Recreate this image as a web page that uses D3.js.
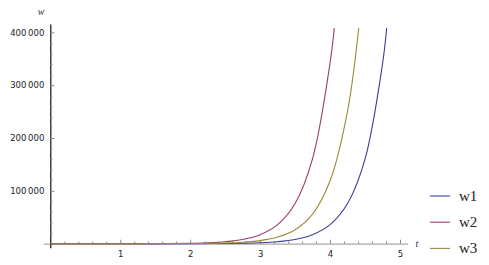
<!DOCTYPE html>
<html>
<head>
<meta charset="utf-8">
<script src="https://cdn.jsdelivr.net/npm/d3@7"></script>
<style>
  body { margin: 0; background: #fff; }
  svg { display: block; }
  .tick text { font-family: "DejaVu Sans", sans-serif; font-size: 8.5px; fill: #222; }
</style>
</head>
<body>
<svg id="chart" width="489" height="265"></svg>
<script>
// values
var seriesNames = ["w1", "w2", "w3"];
var seriesColors = ["#3d3d99", "#993d71", "#998b3d"];

var w1T = [0, 0.5, 1, 1.5, 2, 2.5, 3, 3.25, 3.5, 3.75, 4, 4.25, 4.5, 4.75, 4.81];
var w1V = [0, 1, 4, 20, 90, 400, 1800, 3800, 8000, 17000, 36000, 76000, 160000, 340000, 408000];

var w2T = [0, 0.5, 1, 1.5, 2, 2.25, 2.5, 2.75, 3, 3.25, 3.5, 3.75, 4, 4.06];
var w2V = [2, 9, 42, 190, 850, 1800, 3800, 8000, 17000, 36000, 76000, 161000, 342000, 408000];

var w3T = [0, 0.5, 1, 1.5, 2, 2.25, 2.5, 2.75, 3, 3.25, 3.5, 3.75, 4, 4.25, 4.41];
var w3V = [1, 3, 15, 66, 295, 620, 1300, 2800, 5900, 12500, 26500, 56000, 119000, 251000, 408000];

var xTicks = [1, 2, 3, 4, 5];
var yTicks = [100000, 200000, 300000, 400000];

var svg = d3.select("#chart");

var x = d3.scaleLinear().domain([0, 5]).range([50.3, 400]);
var y = d3.scaleLinear().domain([0, 400000]).range([243.7, 32.3]);

// axes run a little past the plot range, like the original
var xAxisScale = x.copy().domain([-0.1, 5.11]).range([x(-0.1), x(5.11)]);
var yAxisScale = y.copy().domain([-7600, 415700]).range([y(-7600), y(415700)]);

var xMinor = d3.range(0.2, 5.01, 0.2).filter(function(d) { return Math.abs(d - Math.round(d)) > 0.01; });
var yMinor = d3.range(20000, 400001, 20000).filter(function(d) { return d % 100000 != 0; });

var fmt = function(d) {
  var s = String(d);
  return s.slice(0, s.length - 3) + "\u2009" + s.slice(-3);
};

// x axis
svg.append("g")
  .attr("transform", "translate(0," + y(0) + ")")
  .call(d3.axisBottom(xAxisScale).tickValues(xMinor).tickSizeInner(-2.2).tickSizeOuter(0).tickFormat(""))
  .call(function(g) { g.select(".domain").attr("stroke", "#a8a8a8").attr("stroke-width", 1.2); })
  .call(function(g) { g.selectAll(".tick line").attr("stroke", "#8a8a8a"); });

svg.append("g")
  .attr("transform", "translate(0," + y(0) + ")")
  .call(d3.axisBottom(xAxisScale).tickValues(xTicks).tickSizeInner(-4).tickSizeOuter(0).tickPadding(7).tickFormat(d3.format("d")))
  .call(function(g) { g.select(".domain").remove(); })
  .call(function(g) { g.selectAll(".tick line").attr("stroke", "#8a8a8a"); });

// y axis
svg.append("g")
  .attr("transform", "translate(" + x(0) + ",0)")
  .call(d3.axisLeft(yAxisScale).tickValues(yMinor).tickSizeInner(-2.2).tickSizeOuter(0).tickFormat(""))
  .call(function(g) { g.select(".domain").attr("stroke", "#111").attr("stroke-width", 1.2); })
  .call(function(g) { g.selectAll(".tick line").attr("stroke", "#8a8a8a"); });

svg.append("g")
  .attr("transform", "translate(" + x(0) + ",0)")
  .call(d3.axisLeft(yAxisScale).tickValues(yTicks).tickSizeInner(-4).tickSizeOuter(0).tickPadding(6).tickFormat(fmt))
  .call(function(g) { g.select(".domain").remove(); })
  .call(function(g) { g.selectAll(".tick line").attr("stroke", "#8a8a8a"); });

// axis labels
svg.append("text")
  .attr("x", x(-0.13)).attr("y", y(400000) - 17)
  .attr("text-anchor", "middle")
  .style("font-family", "'Liberation Serif', serif").style("font-style", "italic")
  .style("font-size", "10px").style("fill", "#333")
  .text("w");

svg.append("text")
  .attr("x", x(5.24)).attr("y", y(0) + 3)
  .attr("text-anchor", "middle")
  .style("font-family", "'Liberation Serif', serif").style("font-style", "italic")
  .style("font-size", "10px").style("fill", "#333")
  .text("t");

// curves
var series = [
  { name: seriesNames[0], t: w1T, v: w1V, color: seriesColors[0] },
  { name: seriesNames[1], t: w2T, v: w2V, color: seriesColors[1] },
  { name: seriesNames[2], t: w3T, v: w3V, color: seriesColors[2] }
];

var line = d3.line()
  .x(function(d) { return x(d[0]); })
  .y(function(d) { return y(d[1]); })
  .curve(d3.curveCatmullRom.alpha(0.5));

svg.append("g").selectAll("path")
  .data(series)
  .join("path")
  .attr("d", function(s) { return line(d3.zip(s.t, s.v)); })
  .attr("fill", "none")
  .attr("stroke", function(s) { return s.color; })
  .attr("stroke-width", 1.1);

// legend
var legend = svg.append("g").selectAll("g")
  .data(series)
  .join("g")
  .attr("transform", function(s, i) { return "translate(430," + (196 + i * 26.2) + ")"; });

legend.append("line")
  .attr("x1", 0).attr("x2", 20)
  .attr("stroke", function(s) { return s.color; })
  .attr("stroke-width", 1.1);

legend.append("text")
  .attr("x", 29).attr("y", 5)
  .style("font-family", "'Liberation Serif', serif")
  .style("font-size", "15px").style("fill", "#222")
  .text(function(s) { return s.name; });
</script>
</body>
</html>
